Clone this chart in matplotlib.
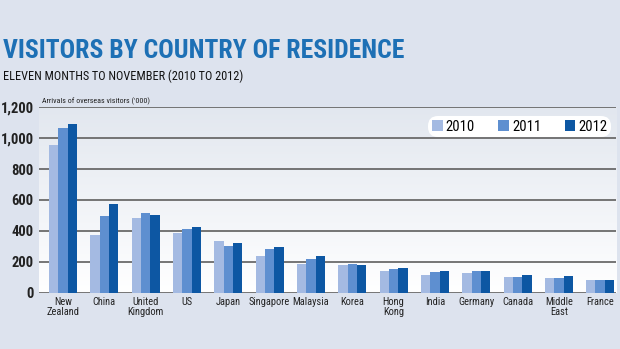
import numpy as np
import matplotlib
matplotlib.use("Agg")
import matplotlib.pyplot as plt
from matplotlib.patches import Patch
from matplotlib import font_manager

# data (thousands of arrivals)
countries = ["New\nZealand", "China", "United\nKingdom", "US", "Japan", "Singapore",
             "Malaysia", "Korea", "Hong\nKong", "India", "Germany", "Canada",
             "Middle\nEast", "France"]
years = ["2010", "2011", "2012"]
v2010 = [955, 373, 481, 384, 334, 239, 188, 177, 142, 116, 129, 99, 97, 80]
v2011 = [1063, 496, 517, 410, 304, 281, 218, 184, 153, 134, 142, 103, 97, 86]
v2012 = [1091, 574, 500, 427, 323, 298, 239, 177, 160, 142, 142, 112, 106, 86]
yticks = [0, 200, 400, 600, 800, 1000, 1200]

colors = ["#a4bae2", "#5e8fd0", "#0d57a3"]
title_blue = "#1d70b5"

# prefer a narrow face if one is installed
names = {f.name for f in font_manager.fontManager.ttflist}
font = [n for n in ["Liberation Sans Narrow", "Roboto Condensed", "Liberation Sans"]
        if n in names] + ["DejaVu Sans"]
narrow = font[0] not in ("Liberation Sans", "DejaVu Sans")
k = 1.0 if narrow else 0.82

fig = plt.figure(figsize=(6.2, 3.49), dpi=100, facecolor="#dde3ee")
ax = fig.add_axes([0.063, 0.161, 0.931, 0.532])

# plot-area gradient (grey-blue at top, white at bottom)
grad = np.linspace(0, 1, 256).reshape(-1, 1)
cmap = matplotlib.colors.LinearSegmentedColormap.from_list("bg", ["#ffffff", "#e2e7ef"])
ax.imshow(grad, extent=[-0.58, 13.39, 0, 1200], origin="lower", aspect="auto",
          cmap=cmap, zorder=0)

x = np.arange(len(countries))
w = 0.226
for i, (vals, c) in enumerate(zip([v2010, v2011, v2012], colors)):
    ax.bar(x + (i - 1) * w, vals, width=w, color=c, zorder=3, linewidth=0)

for t in yticks:
    ax.axhline(t, color="#6a6a6a", lw=1.3, zorder=2)

ax.set_xlim(-0.58, 13.39)
ax.set_ylim(0, 1200)
ax.set_yticks(yticks)
ax.set_yticklabels([f"{t:,}" for t in yticks], family=font, fontsize=10.5 * k,
                   fontweight="bold", color="#222222")
ax.set_xticks(x)
ax.set_xticklabels(countries, family=font, fontsize=7.5 * k, color="#222222",
                   linespacing=1.0)
ax.tick_params(axis="both", length=0, pad=3)
ax.tick_params(axis="y", pad=4)
for s in ax.spines.values():
    s.set_visible(False)

ax.text(0.005, 1215, "Arrivals of overseas visitors ('000)", family=font,
        fontsize=5.8 * k, color="#222222", va="bottom", ha="left",
        transform=ax.get_yaxis_transform())

fig.text(0.005, 0.855, "VISITORS BY COUNTRY OF RESIDENCE", family=font,
         fontsize=18.5 * k, fontweight="bold", color=title_blue, va="center")
fig.text(0.005, 0.78, "ELEVEN MONTHS TO NOVEMBER (2010 TO 2012)", family=font,
         fontsize=8.8 * k, color="#111111", va="center")

handles = [Patch(facecolor=c, edgecolor="none") for c in colors]
leg = ax.legend(handles, years, ncol=3, loc="upper right",
                bbox_to_anchor=(1.0, 0.98), frameon=True, fancybox=True,
                prop={"family": font, "size": 10.5 * k}, handlelength=0.75,
                handleheight=0.75, handletextpad=0.2, columnspacing=1.6,
                borderpad=0.1, facecolor="white", edgecolor="none", framealpha=1)
leg.get_frame().set_boxstyle("round,pad=0.15,rounding_size=0.7")
leg.set_zorder(5)

fig.savefig("out.png", dpi=100, facecolor=fig.get_facecolor())
